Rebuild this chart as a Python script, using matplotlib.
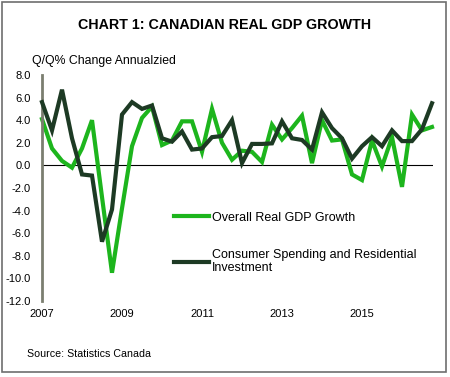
'''
Canadian real GDP growth chart, quarterly 2007-2016
'''
import matplotlib
matplotlib.use("Agg")
import matplotlib.pyplot as plt
from matplotlib.patches import Rectangle

# Q/Q % change annualized, 2007Q1 .. 2016Q4
gdp_growth = [4.1, 1.5, 0.4, -0.2, 1.5, 4.0, -2.8, -9.5,
              -3.8, 1.7, 4.2, 5.2, 1.8, 2.2, 3.9, 3.9,
              1.2, 5.0, 2.0, 0.5, 1.3, 1.2, 0.3, 3.6,
              2.3, 3.3, 4.4, 0.2, 4.0, 2.2, 2.3, -0.8,
              -1.3, 2.2, -0.1, 2.5, -1.9, 4.5, 3.1, 3.4]
consumer_res = [5.6, 3.1, 6.7, 2.4, -0.8, -0.9, -6.75, -3.9,
                4.5, 5.6, 5.0, 5.3, 2.4, 2.1, 3.0, 1.4,
                1.5, 2.5, 2.6, 4.0, 0.2, 1.9, 1.9, 1.95,
                3.9, 2.4, 2.25, 1.4, 4.7, 3.3, 2.4, 0.6,
                1.7, 2.5, 1.7, 3.1, 2.15, 2.15, 3.2, 5.5]
year_labels = ["2007", "2009", "2011", "2013", "2015"]
y_ticks = [8, 6, 4, 2, 0, -2, -4, -6, -8, -10, -12]

green = "#1db51d"
dark = "#1d3a24"

plt.rcParams['font.family'] = ['Liberation Sans', 'DejaVu Sans']

fig = plt.figure(figsize=(4.5, 3.77), dpi=100)
fig.patches.append(Rectangle((2 / 450, 5 / 377), 444 / 450, 370 / 377,
                             transform=fig.transFigure, fill=False,
                             edgecolor="#6e6e6e", linewidth=1.2))

ax = fig.add_axes([42 / 450, 1 - 301 / 377, 391 / 450, 226 / 377])
quarters = list(range(len(gdp_growth)))

ax.axhline(0, color="black", linewidth=0.8, zorder=1)
ax.plot(quarters, gdp_growth, color=green, linewidth=3, solid_joinstyle="miter",
        label="Overall Real GDP Growth", clip_on=False, zorder=2)
ax.plot(quarters, consumer_res, color=dark, linewidth=3, solid_joinstyle="miter",
        label="Consumer Spending and Residential\nInvestment", clip_on=False, zorder=3)

ax.set_xlim(0, 39.1)
ax.set_ylim(-12, 8)
ax.set_yticks(y_ticks)
ax.set_yticklabels(["%.1f" % v for v in y_ticks])
ax.set_xticks(list(range(0, 40, 8)))
ax.set_xticklabels(year_labels)
ax.tick_params(axis="both", length=0, labelsize=8)
ax.tick_params(axis="y", pad=8)
ax.tick_params(axis="x", pad=6)

for side in ["top", "right", "bottom"]:
    ax.spines[side].set_visible(False)
ax.spines["left"].set_color("#7b7e70")
ax.spines["left"].set_linewidth(2)

# legend drawn inside the plot like the original
ax.legend(loc="upper left", bbox_to_anchor=(0.31, 0.445), frameon=False,
          fontsize=9, handlelength=2.8, handletextpad=0.2,
          labelspacing=2.0)

fig.text(0.5, 1 - 25 / 377, "CHART 1: CANADIAN REAL GDP GROWTH",
         ha="center", va="center", fontsize=10.3, fontweight="bold")
fig.text(32 / 450, 1 - 61 / 377, "Q/Q% Change Annualzied",
         ha="left", va="center", fontsize=8.8)
fig.text(27 / 450, 1 - 354 / 377, "Source: Statistics Canada",
         ha="left", va="center", fontsize=7.7)

fig.savefig("out.png", dpi=100)
